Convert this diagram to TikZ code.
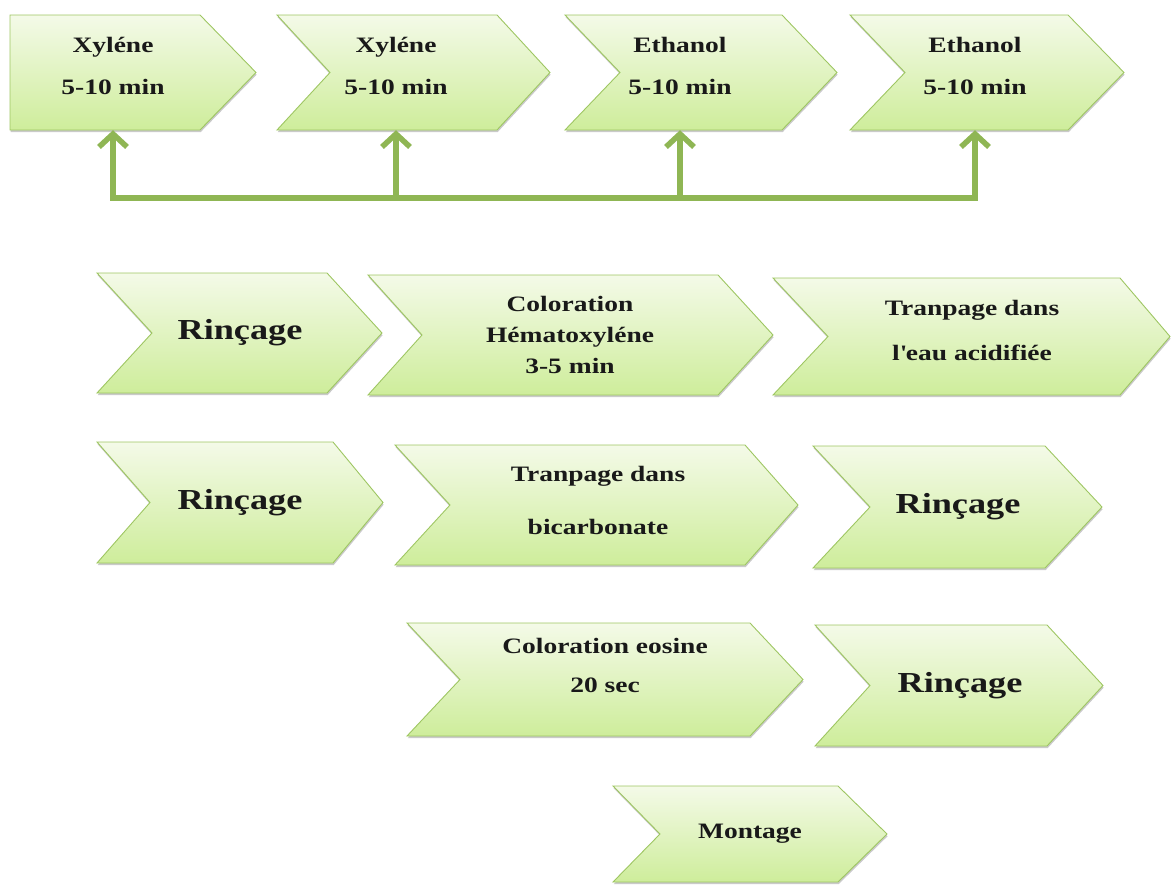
\documentclass[tikz,border=0pt]{standalone}
\usepackage{fontspec}
\setmainfont{Liberation Serif}[FakeStretch=1.25]
\usetikzlibrary{arrows.meta,shadows}
\definecolor{chevtop}{RGB}{244,250,232}
\definecolor{chevbot}{RGB}{206,237,155}
\definecolor{chevline}{RGB}{158,198,98}
\definecolor{arrowgreen}{RGB}{143,182,84}
\definecolor{txtc}{RGB}{25,25,25}
\newcommand{\rinfont}{\bfseries\fontsize{29}{34}\selectfont}
\tikzset{
  chevshape/.style={top color=chevtop, bottom color=chevbot, draw=chevline, line width=0.9pt,
    drop shadow={shadow xshift=0.6pt, shadow yshift=-2.2pt, opacity=0.35, fill=black!60}},
  steptext/.style={align=center, text=txtc, font=\bfseries\fontsize{22}{26}\selectfont,
    inner sep=0pt, minimum width=1pt},
  conn/.style={draw=arrowgreen, line width=5.5pt},
  greentip/.tip={Straight Barb[length=13pt,width=28pt]}
}
% #1 name, #2 left, #3 top, #4 right, #5 bottom, #6 point depth, #7 notch depth, #8 text x, #9 text
\newcommand{\chev}[9]{%
  \shade[chevshape] (#2,#3) -- ({#4-#6},#3) -- (#4,{(#3+#5)/2}) -- ({#4-#6},#5) -- (#2,#5)
    -- ({#2+#7},{(#3+#5)/2}) -- cycle;
  \node[steptext, minimum height={#5-#3}] (#1) at (#8,{(#3+#5)/2}) {#9};
}
\begin{document}
\begin{tikzpicture}[x=1pt,y=-1pt]
\useasboundingbox (0,0) rectangle (1171,886);
% top row
\chev{x1}{10}{15}{256}{130}{56}{0}{113}{Xyléne\\[16pt]5-10 min\\[-13pt]}
\chev{x2}{277}{15}{550}{130}{53}{53}{396}{Xyléne\\[16pt]5-10 min\\[-13pt]}
\chev{x3}{565}{15}{837}{130}{55}{55}{680}{Ethanol\\[16pt]5-10 min\\[-13pt]}
\chev{x4}{850}{15}{1124}{130}{56}{55}{975}{Ethanol\\[16pt]5-10 min\\[-13pt]}
% row 2
\chev{r1}{97}{273}{382}{393}{55}{55}{240}{\rinfont Rinçage}
\chev{c1}{368}{275}{773}{395}{55}{54}{570}{Coloration\\[5pt]Hématoxyléne\\[5pt]3-5 min}
\chev{t1}{773}{278}{1170}{395}{50}{55}{972}{Tranpage dans\\[19pt]l\textquotesingle eau acidifiée\\[-14pt]}
% row 3
\chev{r2}{97}{442}{383}{563}{50}{53}{240}{\rinfont Rinçage}
\chev{t2}{395}{445}{798}{565}{53}{55}{598}{Tranpage dans\\[27pt]bicarbonate\\[-17pt]}
\chev{r3}{813}{446}{1102}{568}{57}{57}{958}{\rinfont Rinçage}
% row 4
\chev{e1}{407}{623}{803}{736}{53}{53}{605}{Coloration eosine\\[13pt]20 sec\\[2pt]}
\chev{r4}{815}{625}{1103}{746}{56}{55}{960}{\rinfont Rinçage}
% row 5
\chev{m1}{613}{786}{887}{882}{49}{47}{750}{Montage}
% connectors
\coordinate (j1) at (113,198);
\coordinate (j2) at (396,198);
\coordinate (j3) at (680,198);
\coordinate (j4) at (975,198);
\draw[conn, greentip-greentip] (x1.south) -- (j1) -- (j4) -- (x4.south);
\draw[conn, -greentip] (j2) -- (x2.south);
\draw[conn, -greentip] (j3) -- (x3.south);
\end{tikzpicture}
\end{document}
